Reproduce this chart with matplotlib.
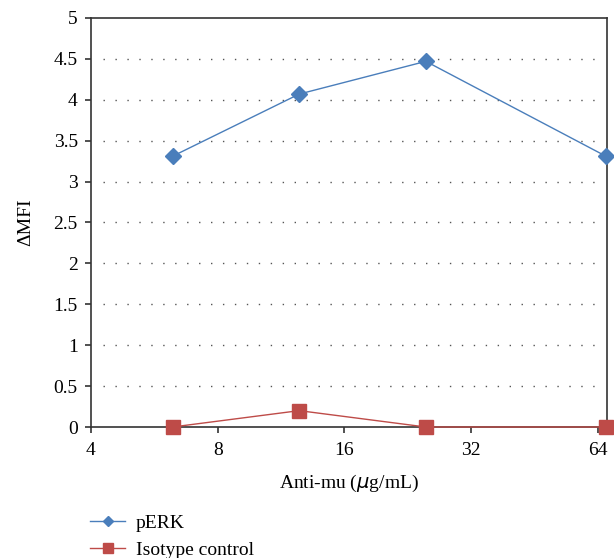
import matplotlib.pyplot as plt
from matplotlib.ticker import FixedLocator, FixedFormatter, NullLocator

# data
conc = [6.25, 12.5, 25, 67]
perk = [3.31, 4.07, 4.47, 3.31]
isotype = [0.0, 0.2, 0.0, 0.0]
xticks = [4, 8, 16, 32, 64]
yticks = [0, 0.5, 1, 1.5, 2, 2.5, 3, 3.5, 4, 4.5, 5]

plt.rcParams['font.family'] = ['Liberation Serif', 'DejaVu Serif']
FS = 14

fig = plt.figure(figsize=(6.14, 5.58), dpi=100)
ax = fig.add_axes([91/614, 1-427/558, (606.5-91)/614, (427-18)/558])

ax.plot(conc, perk, color='#4a7ebb', lw=1.0, marker='D', ms=8,
        label='pERK', clip_on=False, zorder=3)
ax.plot(conc, isotype, color='#be4b48', lw=1.0, marker='s', ms=10,
        label='Isotype control', clip_on=False, zorder=3)

ax.set_xscale('log', base=2)
ax.set_xlim(4, 67.2)
ax.set_ylim(0, 5)
ax.xaxis.set_major_locator(FixedLocator(xticks))
ax.xaxis.set_major_formatter(FixedFormatter([str(t) for t in xticks]))
ax.xaxis.set_minor_locator(NullLocator())
ax.set_yticks(yticks)
ax.set_yticklabels([f'{t:g}' for t in yticks])

# dotted horizontal guides, inset from the spines
for y in yticks[1:-1]:
    ax.plot([4.27, 64.5], [y, y], color='#555555', lw=1.0,
            linestyle=(0, (1, 7.6)), zorder=1)

for s in ax.spines.values():
    s.set_color('#333333')
    s.set_linewidth(1.2)
ax.tick_params(axis='both', direction='out', length=4.5, width=1.2,
               color='#333333', labelsize=FS)
ax.tick_params(axis='x', pad=6)
ax.tick_params(axis='y', pad=5)

ax.set_xlabel('Anti-mu ($\\mu$g/mL)', fontsize=FS)
ax.xaxis.set_label_coords(0.5, -0.113)
ax.set_ylabel('ΔMFI', fontsize=FS)
ax.yaxis.set_label_coords(-0.111, 0.5)

fig.legend(loc='upper left', bbox_to_anchor=(90/614, 1-514/558),
           frameon=False, fontsize=FS, handlelength=1.8, borderpad=0,
           borderaxespad=0, handletextpad=0.55, labelspacing=0.5,
           markerscale=0.65)

fig.savefig('out.png', dpi=100)
